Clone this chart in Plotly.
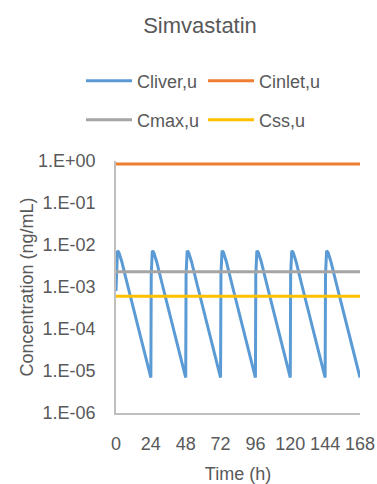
import plotly.graph_objects as go

title_text = "Simvastatin"
series_names = ["Cliver,u", "Cinlet,u", "Cmax,u", "Css,u"]
colors = ["#5B9BD5", "#ED7D31", "#A5A5A5", "#FFC000"]

time_h = [0, 0.5, 1, 2, 4, 8, 12, 16, 20, 24,
          24.25, 24.5, 25, 26, 28, 32, 36, 40, 44, 48,
          48.25, 48.5, 49, 50, 52, 56, 60, 64, 68, 72,
          72.25, 72.5, 73, 74, 76, 80, 84, 88, 92, 96,
          96.25, 96.5, 97, 98, 100, 104, 108, 112, 116, 120,
          120.25, 120.5, 121, 122, 124, 128, 132, 136, 140, 144,
          144.25, 144.5, 145, 146, 148, 152, 156, 160, 164, 168]
cliver = [8.0e-4, 5.0e-3, 7.3e-3, 6.6e-3, 4.0e-3, 1.1e-3, 3.2e-4, 9.0e-5, 2.5e-5, 7.0e-6,
          2.0e-3, 5.0e-3, 7.3e-3, 6.6e-3, 4.0e-3, 1.1e-3, 3.2e-4, 9.0e-5, 2.5e-5, 7.0e-6,
          2.0e-3, 5.0e-3, 7.3e-3, 6.6e-3, 4.0e-3, 1.1e-3, 3.2e-4, 9.0e-5, 2.5e-5, 7.0e-6,
          2.0e-3, 5.0e-3, 7.3e-3, 6.6e-3, 4.0e-3, 1.1e-3, 3.2e-4, 9.0e-5, 2.5e-5, 7.0e-6,
          2.0e-3, 5.0e-3, 7.3e-3, 6.6e-3, 4.0e-3, 1.1e-3, 3.2e-4, 9.0e-5, 2.5e-5, 7.0e-6,
          2.0e-3, 5.0e-3, 7.3e-3, 6.6e-3, 4.0e-3, 1.1e-3, 3.2e-4, 9.0e-5, 2.5e-5, 7.0e-6,
          2.0e-3, 5.0e-3, 7.3e-3, 6.6e-3, 4.0e-3, 1.1e-3, 3.2e-4, 9.0e-5, 2.5e-5, 7.0e-6]

flat_time = [0, 168]
cinlet = [0.85, 0.85]
cmax = [2.3e-3, 2.3e-3]
css = [6.0e-4, 6.0e-4]

x_ticks = [0, 24, 48, 72, 96, 120, 144, 168]
y_tickvals = [1, 1e-1, 1e-2, 1e-3, 1e-4, 1e-5, 1e-6]
y_ticktext = ["1.E+00", "1.E-01", "1.E-02", "1.E-03", "1.E-04", "1.E-05", "1.E-06"]

FONT = "Liberation Sans, Arial, sans-serif"
TXT = "#595959"
W, H = 377, 484

fig = go.Figure()
legend_ids = ["legend", "legend2", "legend3", "legend4"]
series_x = [time_h, flat_time, flat_time, flat_time]
series_y = [cliver, cinlet, cmax, css]
for i in range(4):
    fig.add_trace(go.Scatter(x=series_x[i], y=series_y[i], mode="lines", name=series_names[i],
                             line=dict(color=colors[i], width=3), legend=legend_ids[i],
                             showlegend=True))

# legend positions (container px): left edge, vertical center
leg_pos = [(81, 81), (203, 81), (81, 120), (203, 120)]

leg_common = dict(orientation="h", xref="container", yref="container",
                  xanchor="left", yanchor="middle",
                  font=dict(size=18, color=TXT, family=FONT),
                  bgcolor="rgba(0,0,0,0)", itemwidth=46, visible=True)

layout_legends = {}
for lid, (lx, ly) in zip(legend_ids, leg_pos):
    layout_legends[lid] = dict(**leg_common, x=lx / W, y=1 - ly / H)

fig.update_layout(
    width=W, height=H,
    showlegend=True,
    margin=dict(l=116, r=17, t=161, b=71, autoexpand=False),
    paper_bgcolor="white", plot_bgcolor="white",
    font=dict(family=FONT, color=TXT, size=18),
    title=dict(text=title_text, x=200 / W, xref="container", xanchor="center",
               y=1 - 25 / H, yref="container", yanchor="middle",
               font=dict(size=22, color=TXT, family=FONT)),
    xaxis=dict(range=[0, 168], tickvals=x_ticks, ticktext=[str(v) for v in x_ticks],
               showgrid=False, zeroline=False, showline=True, linecolor="#BFBFBF",
               linewidth=1.5, ticks="", ticklabelstandoff=14,
               tickfont=dict(size=18, color=TXT),
               title=dict(text="Time (h)", font=dict(size=18, color=TXT), standoff=17)),
    yaxis=dict(type="log", range=[-6, 0], tickvals=y_tickvals, ticktext=y_ticktext,
               showgrid=False, zeroline=False, showline=True, linecolor="#BFBFBF",
               linewidth=1.5, ticks="", ticklabelstandoff=15,
               tickfont=dict(size=18, color=TXT),
               title=dict(text="Concentration (ng/mL)", font=dict(size=18, color=TXT), standoff=0)),
    **layout_legends,
)

fig.write_html("out.html")
